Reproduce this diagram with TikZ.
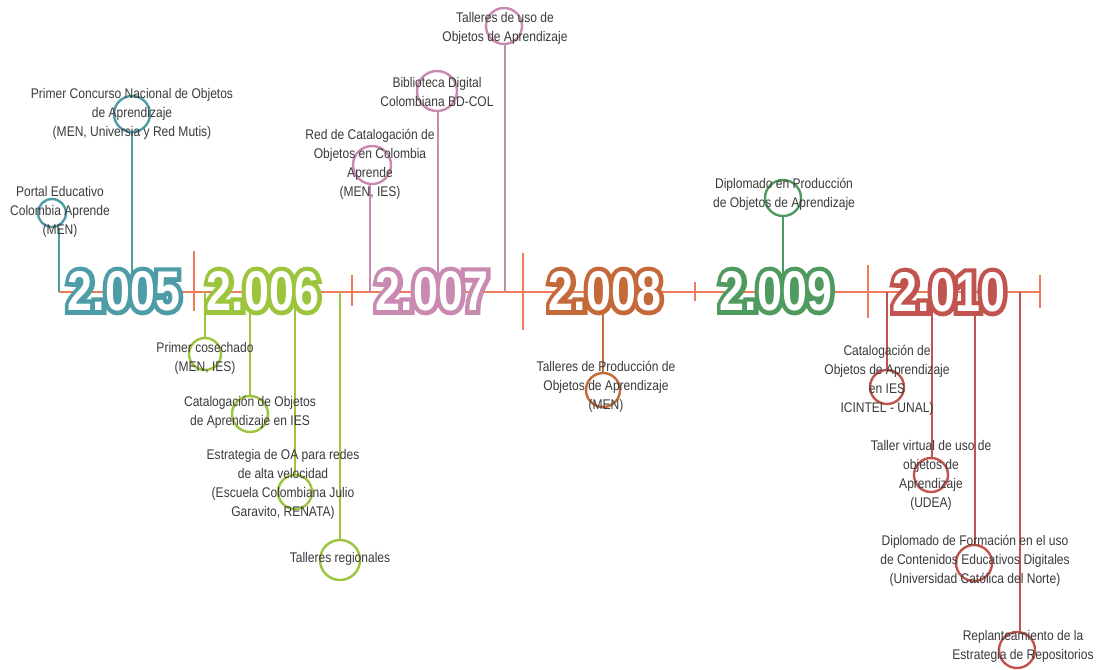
\documentclass[tikz,border=0pt]{standalone}
\usepackage{fontspec}
\setmainfont{Liberation Sans}
\newfontfamily\labfont[FakeStretch=0.86]{Liberation Sans}
\newfontfamily\yearfont[FakeStretch=0.8]{Liberation Sans Bold}
\newfontfamily\yearoutfont[FakeStretch=0.8,FakeBold=16]{Liberation Sans Bold}
\definecolor{tl}{HTML}{EE7C5A}
\definecolor{c05}{HTML}{4E9CA6}
\definecolor{c06}{HTML}{9CC43C}
\definecolor{c07}{HTML}{C98AB2}
\definecolor{c08}{HTML}{C4693A}
\definecolor{c09}{HTML}{4F9A5E}
\definecolor{c10}{HTML}{C2544F}
\definecolor{txt}{HTML}{3A3A3A}
\tikzset{
  lab/.style={font=\labfont\fontsize{14}{19}\selectfont, text=txt, align=center, inner sep=0pt},
  ring/.style={circle, draw=#1, line width=2.4pt, inner sep=0pt},
  conn/.style={draw=#1, line width=2.4pt},
  tickline/.style={draw=tl, line width=2.4pt},
  yearnum/.style={font=\yearfont\fontsize{56}{56}\selectfont, inner sep=0pt, text=white},
  yearout/.style={font=\yearoutfont\fontsize{56}{56}\selectfont, inner sep=0pt, text=#1},
}
\newcommand{\yearlbl}[4]{%
  \node[yearout=#3] (#1o) at (#2) {#4};
  \node[yearnum] (#1) at (#1o.center) {#4};
}
\begin{document}
\begin{tikzpicture}[x=1pt,y=-1pt]
\path[fill=white,use as bounding box] (0,0) rectangle (1099,669);

% timeline
\coordinate (tA) at (59,292);
\coordinate (tB) at (1040,292);
\draw[tickline] (tA) -- (tB);
\coordinate (k1a) at (194,251); \coordinate (k1b) at (194,311);
\coordinate (k2a) at (352,275); \coordinate (k2b) at (352,306);
\coordinate (k3a) at (523,253); \coordinate (k3b) at (523,330);
\coordinate (k4a) at (695,282); \coordinate (k4b) at (695,301);
\coordinate (k5a) at (868,265); \coordinate (k5b) at (868,318);
\coordinate (k6a) at (1040,275); \coordinate (k6b) at (1040,308);
\foreach \k in {1,...,6}{\draw[tickline] (k\k a) -- (k\k b);}

% ---- 2005
\node[ring=c05, minimum size=28] (cP1) at (52,213) {};
\coordinate (tP1) at (59,292);
\draw[conn=c05] (tP1) -- (tP1 |- cP1.south);
\node[ring=c05, minimum size=36] (cP2) at (132,114) {};
\coordinate (tP2) at (132,292);
\draw[conn=c05] (tP2) -- (tP2 |- cP2.south);

% ---- 2006
\node[ring=c06, minimum size=32] (cG1) at (205,354) {};
\coordinate (tG1) at (205,292);
\draw[conn=c06] (tG1) -- (tG1 |- cG1.north);
\node[ring=c06, minimum size=36] (cG2) at (250,414) {};
\coordinate (tG2) at (250,292);
\draw[conn=c06] (tG2) -- (tG2 |- cG2.north);
\node[ring=c06, minimum size=34] (cG3) at (295,492) {};
\coordinate (tG3) at (295,292);
\draw[conn=c06] (tG3) -- (tG3 |- cG3.north);
\node[ring=c06, minimum size=40] (cG4) at (340,560) {};
\coordinate (tG4) at (340,292);
\draw[conn=c06] (tG4) -- (tG4 |- cG4.north);

% ---- 2007
\node[ring=c07, minimum size=38] (cM1) at (372,165) {};
\coordinate (tM1) at (370,292);
\draw[conn=c07] (tM1) -- (tM1 |- cM1.south);
\node[ring=c07, minimum size=40] (cM2) at (437,91) {};
\coordinate (tM2) at (438,292);
\draw[conn=c07] (tM2) -- (tM2 |- cM2.south);
\node[ring=c07, minimum size=36] (cM3) at (504,26) {};
\coordinate (tM3) at (505,292);
\draw[conn=c07] (tM3) -- (tM3 |- cM3.south);

% ---- 2008
\node[ring=c08, minimum size=34] (cB1) at (603,390) {};
\coordinate (tB1) at (603,292);
\draw[conn=c08] (tB1) -- (tB1 |- cB1.north);

% ---- 2009
\node[ring=c09, minimum size=36] (cN1) at (783,198) {};
\coordinate (tN1) at (783,292);
\draw[conn=c09] (tN1) -- (tN1 |- cN1.south);

% ---- 2010
\node[ring=c10, minimum size=34] (cR1) at (887,387) {};
\coordinate (tR1) at (887,292);
\draw[conn=c10] (tR1) -- (tR1 |- cR1.north);
\node[ring=c10, minimum size=34] (cR2) at (931,475) {};
\coordinate (tR2) at (932,292);
\draw[conn=c10] (tR2) -- (tR2 |- cR2.north);
\node[ring=c10, minimum size=36] (cR3) at (974,563) {};
\coordinate (tR3) at (975,292);
\draw[conn=c10] (tR3) -- (tR3 |- cR3.north);
\node[ring=c10, minimum size=36] (cR4) at (1017,650) {};
\coordinate (tR4) at (1020,292);
\draw[conn=c10] (tR4) -- (tR4 |- cR4.north);

% ---- labels
\node[lab] (lP1) at (60,212) {Portal Educativo\\Colombia Aprende\\(MEN)};
\node[lab] (lP2) at (132,114) {Primer Concurso Nacional de Objetos\\de Aprendizaje\\(MEN, Universia y Red Mutis)};
\node[lab] (lG1) at (205,358) {Primer cosechado\\(MEN, IES)};
\node[lab] (lG2) at (250,412) {Catalogación de Objetos\\de Aprendizaje en IES};
\node[lab] (lG3) at (283,484) {Estrategia de OA para redes\\de alta velocidad\\(Escuela Colombiana Julio\\Garavito, RENATA)};
\node[lab] (lG4) at (340,559) {Talleres regionales};
\node[lab] (lM1) at (370,164) {Red de Catalogación de\\Objetos en Colombia\\Aprende\\(MEN, IES)};
\node[lab] (lM2) at (437,92) {Biblioteca Digital\\Colombiana BD-COL};
\node[lab] (lM3) at (505,28) {Talleres de uso de\\Objetos de Aprendizaje};
\node[lab] (lB1) at (606,387) {Talleres de Producción de\\Objetos de Aprendizaje\\(MEN)};
\node[lab] (lN1) at (784,194) {Diplomado en Producción\\de Objetos de Aprendizaje};
\node[lab] (lR1) at (887,380) {Catalogación de\\Objetos de Aprendizaje\\en IES\\ICINTEL - UNAL)};
\node[lab] (lR2) at (931,475) {Taller virtual de uso de\\objetos de\\Aprendizaje\\(UDEA)};
\node[lab] (lR3) at (975,561) {Diplomado de Formación en el uso\\de Contenidos Educativos Digitales\\(Universidad Católica del Norte)};
\node[lab] (lR4) at (1023,646) {Replanteamiento de la\\Estrategia de Repositorios};

% ---- years
\yearlbl{y05}{124,291}{c05}{2.005}
\yearlbl{y06}{263,291}{c06}{2.006}
\yearlbl{y07}{432,291}{c07}{2.007}
\yearlbl{y08}{605,291}{c08}{2.008}
\yearlbl{y09}{776,291}{c09}{2.009}
\yearlbl{y10}{949,292}{c10}{2.010}
\end{tikzpicture}
\end{document}
